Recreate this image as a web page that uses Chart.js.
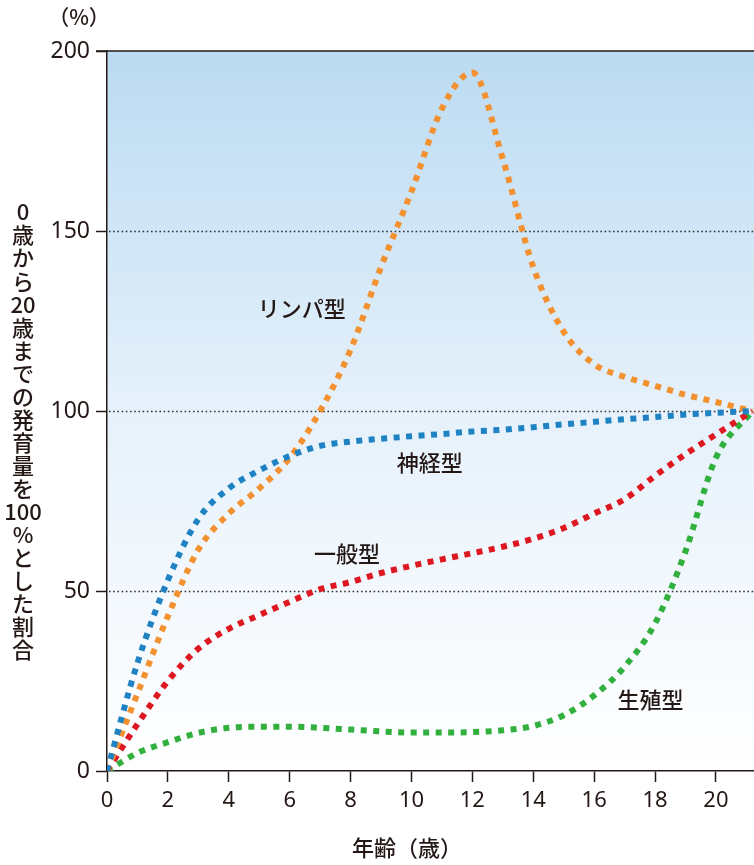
<!DOCTYPE html>
<html lang="ja">
<head>
<meta charset="utf-8">
<script src="https://cdn.jsdelivr.net/npm/chart.js@4/dist/chart.umd.min.js"></script>
<style>
  body { margin: 0; background: #fff; }
  canvas { display: block; }
</style>
</head>
<body>
<canvas id="growthChart" width="754" height="865"></canvas>
<script>
// ages (years) and growth (% of growth from 0 to 20 years)
const ages = [0, 1, 2, 3, 4, 5, 6, 7, 8, 9, 10, 11, 12, 13, 14, 15, 16, 17, 18, 19, 20, 21.2];
const lymphoid = [0, 21.5, 43, 61.5, 71.5, 78.5, 87, 100, 117, 140, 161, 184, 194, 170, 140, 122, 113, 109.5, 107, 104.5, 102.5, 100];
const neural = [0, 30, 53, 70, 78.5, 83.5, 87.5, 90.3, 91.5, 92.3, 93, 93.6, 94.3, 94.8, 95.5, 96.3, 97, 97.7, 98.3, 99, 99.5, 100];
const general = [0, 13, 25, 34, 39.5, 43.3, 47, 50.5, 52.5, 55, 57, 58.8, 60.5, 62.3, 64.5, 67.5, 71.5, 75.5, 82, 88, 93.5, 100];
const genital = [0, 5, 8, 10.6, 12, 12.3, 12.3, 12, 11.5, 11, 10.7, 10.7, 10.8, 11.3, 12.5, 15.5, 21, 29, 41, 61, 87, 100];
const yTicks = [0, 50, 100, 150, 200];
const yGuides = [50, 100, 150];
const xTicks = [0, 2, 4, 6, 8, 10, 12, 14, 16, 18, 20];

const ink = '#231815';
const jpFont = '"Noto Sans CJK JP", "Noto Sans", sans-serif';

function points(values) {
  return values.map((v, i) => ({ x: ages[i], y: v }));
}

function dotted(label, values, color) {
  return {
    label: label,
    data: points(values),
    borderColor: color,
    borderWidth: 6,
    borderDash: [6, 6.5],
    borderCapStyle: 'butt',
    pointRadius: 0,
    fill: false,
    cubicInterpolationMode: 'monotone'
  };
}

// background gradient, dotted guides, top border, and all free text
const decorations = {
  id: 'decorations',
  beforeDraw(chart) {
    const { ctx, chartArea: a } = chart;
    const g = ctx.createLinearGradient(0, a.top, 0, a.bottom);
    g.addColorStop(0, '#bbdbf2');
    g.addColorStop(0.5, '#e6f1fb');
    g.addColorStop(1, '#ffffff');
    ctx.save();
    ctx.fillStyle = g;
    ctx.fillRect(a.left, a.top, a.right - a.left, a.bottom - a.top);
    ctx.restore();
  },
  beforeDatasetsDraw(chart) {
    const { ctx, chartArea: a, scales } = chart;
    ctx.save();
    ctx.strokeStyle = '#333';
    ctx.lineWidth = 1.6;
    ctx.setLineDash([1.6, 2.6]);
    yGuides.forEach(v => {
      const py = Math.round(scales.y.getPixelForValue(v)) + 0.5;
      ctx.beginPath();
      ctx.moveTo(a.left + 2, py);
      ctx.lineTo(a.right, py);
      ctx.stroke();
    });
    ctx.restore();
  },
  afterDraw(chart) {
    const { ctx, chartArea: a, scales } = chart;
    ctx.save();
    // top border of plot
    ctx.strokeStyle = ink;
    ctx.lineWidth = 1.5;
    ctx.beginPath();
    ctx.moveTo(a.left - 11, a.top);
    ctx.lineTo(a.right, a.top);
    ctx.stroke();

    ctx.fillStyle = ink;
    ctx.textAlign = 'center';
    ctx.textBaseline = 'middle';
    ctx.font = '500 21px ' + jpFont;
    ctx.fillText('（%）', 79, 17);

    // stacked vertical y title
    const yTitle = ['0', '歳', 'か', 'ら', '20', '歳', 'ま', 'で', 'の', '発', '育', '量', 'を', '100', '%', 'と', 'し', 'た', '割', '合'];
    ctx.font = '500 22px ' + jpFont;
    yTitle.forEach((s, i) => ctx.fillText(s, 23, 212 + i * 23.05));

    ctx.fillText('年齢（歳）', 407, 848);

    // curve labels
    const x = scales.x, y = scales.y;
    ctx.fillText('リンパ型', x.getPixelForValue(6.4), y.getPixelForValue(128.5));
    ctx.fillText('神経型', x.getPixelForValue(10.6), y.getPixelForValue(85.7));
    ctx.fillText('一般型', x.getPixelForValue(7.88), y.getPixelForValue(60.5));
    ctx.fillText('生殖型', x.getPixelForValue(17.85), y.getPixelForValue(19.7));
    ctx.restore();
  }
};

new Chart(document.getElementById('growthChart'), {
  type: 'line',
  data: {
    datasets: [
      dotted('神経型', neural, 'rgb(31,130,195)'),
      dotted('リンパ型', lymphoid, 'rgb(243,145,48)'),
      dotted('一般型', general, 'rgb(222,24,32)'),
      dotted('生殖型', genital, 'rgb(50,176,62)')
    ]
  },
  options: {
    responsive: false,
    animation: false,
    layout: { padding: { top: 51, right: 0, bottom: 0, left: 0 } },
    plugins: {
      legend: { display: false },
      tooltip: { enabled: false }
    },
    scales: {
      x: {
        type: 'linear',
        min: 0,
        max: 21.25,
        afterBuildTicks: (s) => { s.ticks = xTicks.map(v => ({ value: v })); },
        afterFit: (s) => { s.height = 94; },
        border: { color: ink, width: 1.5 },
        grid: { drawOnChartArea: false, drawTicks: true, tickLength: 11, tickColor: ink, tickWidth: 1.5 },
        ticks: { color: ink, padding: 6, font: { family: 'Noto Sans', size: 22 }, maxRotation: 0 }
      },
      y: {
        min: 0,
        max: 200,
        afterBuildTicks: (s) => { s.ticks = yTicks.map(v => ({ value: v })); },
        afterFit: (s) => { s.width = 107; },
        border: { color: ink, width: 1.5 },
        grid: { drawOnChartArea: false, drawTicks: true, tickColor: ink, tickWidth: 1.5, tickLength: 11 },
        ticks: { color: ink, padding: 6, font: { family: 'Noto Sans', size: 23 } }
      }
    }
  },
  plugins: [decorations]
});
</script>
</body>
</html>
